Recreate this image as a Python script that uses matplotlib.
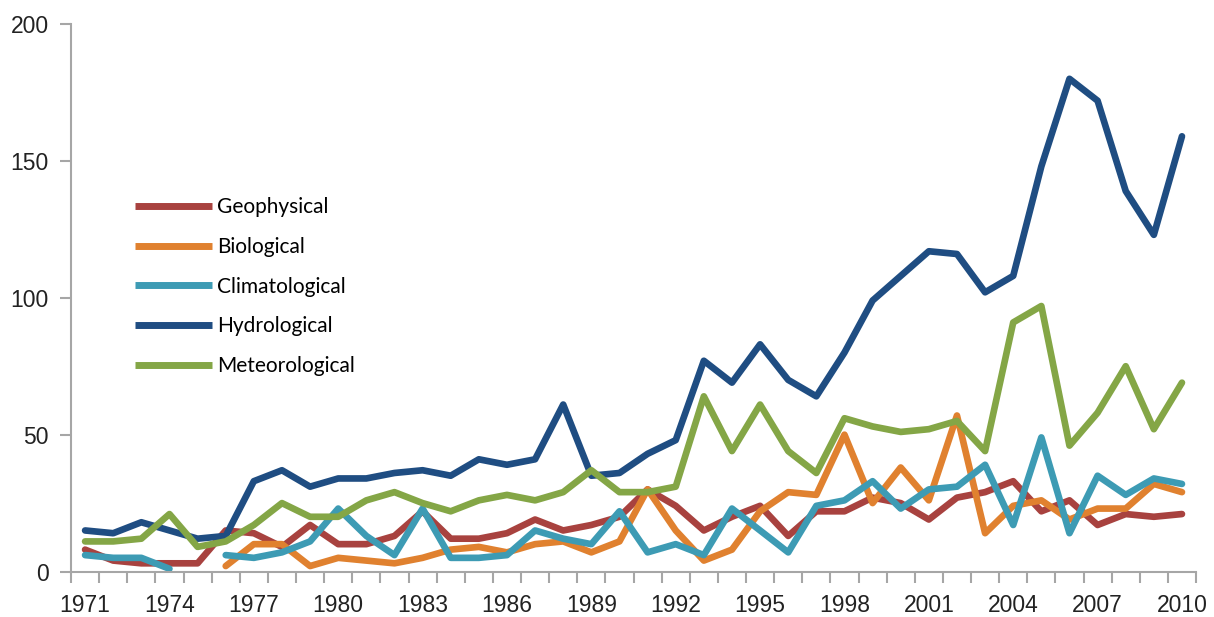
import matplotlib
matplotlib.use('Agg')
import matplotlib.pyplot as plt
import numpy as np

nan = np.nan

years = list(range(1971, 2011))

geophysical = [8, 4, 3, 3, 3, 15, 14, 9, 17, 10, 10, 13, 22, 12, 12, 14, 19, 15, 17, 20,
               30, 24, 15, 20, 24, 13, 22, 22, 27, 25, 19, 27, 29, 33, 22, 26, 17, 21, 20, 21]
biological = [nan, nan, nan, nan, nan, 2, 10, 10, 2, 5, 4, 3, 5, 8, 9, 7, 10, 11, 7, 11,
              30, 15, 4, 8, 22, 29, 28, 50, 25, 38, 26, 57, 14, 24, 26, 19, 23, 23, 32, 29]
climatological = [6, 5, 5, 1, nan, 6, 5, 7, 11, 23, 13, 6, 23, 5, 5, 6, 15, 12, 10, 22,
                  7, 10, 6, 23, 15, 7, 24, 26, 33, 23, 30, 31, 39, 17, 49, 14, 35, 28, 34, 32]
hydrological = [15, 14, 18, 15, 12, 13, 33, 37, 31, 34, 34, 36, 37, 35, 41, 39, 41, 61, 35, 36,
                43, 48, 77, 69, 83, 70, 64, 80, 99, 108, 117, 116, 102, 108, 148, 180, 172, 139, 123, 159]
meteorological = [11, 11, 12, 21, 9, 11, 17, 25, 20, 20, 26, 29, 25, 22, 26, 28, 26, 29, 37, 29,
                  29, 31, 64, 44, 61, 44, 36, 56, 53, 51, 52, 55, 44, 91, 97, 46, 58, 75, 52, 69]

series = [
    ('Geophysical', geophysical, '#A8423F'),
    ('Biological', biological, '#E0812F'),
    ('Climatological', climatological, '#3D9BB4'),
    ('Hydrological', hydrological, '#1F4D82'),
    ('Meteorological', meteorological, '#84A646'),
]

plt.rcParams['font.family'] = ['Liberation Sans', 'DejaVu Sans']

fig = plt.figure(figsize=(12.14, 6.17), dpi=100)
ax = fig.add_axes([0.0585, 0.0737, 0.9267, 0.8873])

x = np.arange(len(years))
for name, vals, col in series:
    ax.plot(x, vals, color=col, linewidth=4.8, label=name,
            solid_capstyle='round', solid_joinstyle='round')

ax.set_xlim(-0.5, len(years) - 0.5)
ax.set_ylim(0, 200)

# category style axis: tick marks between categories, labels every third year
ax.set_xticks(x[::3])
ax.set_xticklabels([str(y) for y in years[::3]])
ax.set_xticks(np.arange(-0.5, len(years), 1.0), minor=True)
ax.tick_params(axis='x', which='major', length=0, pad=16, labelsize=16.5, labelcolor='#222222')
ax.tick_params(axis='x', which='minor', length=8, width=1.5, color='#A6A6A6', direction='out')

ax.set_yticks([0, 50, 100, 150, 200])
ax.tick_params(axis='y', which='major', length=8, width=1.5, color='#A6A6A6', pad=8,
               labelsize=16.5, labelcolor='#222222', direction='out')

for side in ['top', 'right']:
    ax.spines[side].set_visible(False)
for side in ['left', 'bottom']:
    ax.spines[side].set_color('#A6A6A6')
    ax.spines[side].set_linewidth(1.5)

leg = ax.legend(loc='upper left', bbox_to_anchor=(0.057, 0.684), frameon=False,
                borderaxespad=0, borderpad=0, handlelength=3.7, handletextpad=0.25,
                labelspacing=0.95, prop={'family': 'Lato', 'size': 15})
for h in leg.get_lines():
    h.set_linewidth(5)
    h.set_solid_capstyle('butt')

fig.savefig('out.png', dpi=100)
